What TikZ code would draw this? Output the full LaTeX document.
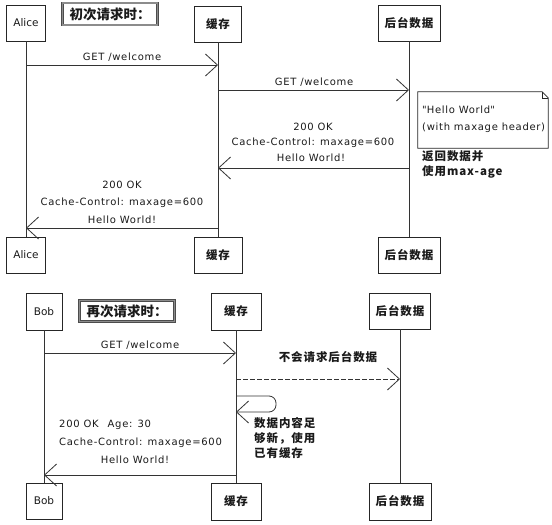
\documentclass[tikz,border=0pt]{standalone}
\usepackage{fontspec}
\setmainfont{DejaVu Sans}
\newfontfamily\cjk{Noto Sans CJK SC}
\usetikzlibrary{arrows.meta}
\definecolor{ln}{HTML}{333333}
\definecolor{tx}{HTML}{1A1A1A}
\newcommand\dq{\XeTeXglyph\XeTeXcharglyph"22\relax}
\tikzset{
  actor/.style={draw=black!85, line width=0.9pt, fill=white, minimum height=36pt, inner sep=1pt, text=tx, font=\fontsize{10.5}{12}\selectfont},
  cjkactor/.style={actor, font=\cjk\bfseries\fontsize{11.5}{13}\selectfont\addfontfeature{LetterSpace=8}},
  titlebox/.style={draw=black!70, double=black!45, double distance=1.6pt, line width=0.6pt, fill=white, inner sep=1pt, text=tx, font=\cjk\bfseries\fontsize{13.5}{15}\selectfont},
  life/.style={draw=ln, line width=0.7pt},
  msg/.style={draw=ln, line width=0.8pt, -{Straight Barb[length=12pt,width=22pt,line width=0.8pt]}},
  dmsg/.style={msg, dash pattern=on 4.5pt off 2.5pt},
  lbl/.style={text=tx, inner sep=0pt, font=\fontsize{10}{12}\selectfont\addfontfeature{LetterSpace=7}},
  cjkl/.style={text=tx, inner sep=0pt, align=left, font=\cjk\bfseries\fontsize{11.5}{15}\selectfont\addfontfeature{LetterSpace=8}},
  notebox/.style={minimum width=130pt, minimum height=56pt, inner sep=0pt},
  notedraw/.style={draw=black!85, line width=0.8pt, fill=white}
}
\begin{document}
\begin{tikzpicture}[x=1pt,y=-1pt]
\fill[white] (0,0) rectangle (552,525);
\useasboundingbox (0,0) rectangle (552,525);

% ---------- first section ----------
\node[actor, minimum width=39pt] (alice1) at (26,23) {Alice};
\node[titlebox, minimum width=95pt, minimum height=22pt] (t1) at (110,14) {初次请求时：};
\node[cjkactor, minimum width=47pt] (cache1) at (218,24) {缓存};
\node[cjkactor, minimum width=62pt] (back1) at (409,23) {后台数据};

\node[actor, minimum width=39pt] (alice2) at (26,255) {Alice};
\node[cjkactor, minimum width=48pt] (cache2) at (218,255) {缓存};
\node[cjkactor, minimum width=62pt] (back2) at (409,255) {后台数据};

\draw[life] (alice1) -- (alice2);
\draw[life] (cache1) -- (cache2);
\draw[life] (back1) -- (back2);

\draw[msg] (alice1 |- 0,65) -- (cache1 |- 0,65);
\node[lbl] (l1) at (122,57) {GET /welcome};

\draw[msg] (cache1 |- 0,90) -- (back1 |- 0,90);
\node[lbl] (l2) at (314,82) {GET /welcome};

\node[notebox] (note) at (483,120) {};
\draw[notedraw] (note.north west) -- ([xshift=-6pt]note.north east) -- ([yshift=-6pt]note.north east) -- (note.south east) -- (note.south west) -- cycle;
\draw[notedraw, fill=none, line width=0.6pt] ([xshift=-6pt]note.north east) -- ([xshift=-6pt,yshift=-6pt]note.north east) -- ([yshift=-6pt]note.north east);
\node[lbl, anchor=west] (n1) at (422,110) {\dq Hello World\dq};
\node[lbl, anchor=west] (n2) at (422,128) {(with maxage header)};

\draw[msg] (back1 |- 0,168) -- (cache1 |- 0,168);
\node[lbl] (l3a) at (313,127) {200 OK};
\node[lbl] (l3b) at (313,143) {Cache-Control: maxage=600};
\node[lbl] (l3c) at (311,158) {Hello World!};

\node[cjkl, anchor=north west] (c1) at (422,150) {返回数据并\\使用max-age};

\draw[msg] (cache1 |- 0,228) -- (alice1 |- 0,228);
\node[lbl] (l4a) at (122,185) {200 OK};
\node[lbl] (l4b) at (122,203) {Cache-Control: maxage=600};
\node[lbl] (l4c) at (122,220) {Hello World!};

% ---------- second section ----------
\node[actor, minimum width=36pt, minimum height=37pt] (bob1) at (44,311.5) {Bob};
\node[titlebox, minimum width=95pt, minimum height=21pt] (t2) at (127,311) {再次请求时：};
\node[cjkactor, minimum width=50pt, minimum height=37pt] (cache3) at (236,311.5) {缓存};
\node[cjkactor, minimum width=61pt] (back3) at (400,311) {后台数据};

\node[actor, minimum width=36pt, minimum height=36pt] (bob2) at (44,501) {Bob};
\node[cjkactor, minimum width=50pt, minimum height=37pt] (cache4) at (236,501.5) {缓存};
\node[cjkactor, minimum width=62pt, minimum height=37pt] (back4) at (400,501.5) {后台数据};

\draw[life] (bob1) -- (bob2);
\draw[life] (cache3) -- (cache4);
\draw[life] (back3) -- (back4);

\draw[msg] (bob1 |- 0,353) -- (cache3 |- 0,353);
\node[lbl] (l5) at (140,345) {GET /welcome};

\draw[dmsg] (cache3 |- 0,379) -- (back3 |- 0,379);
\node[cjkl] (c2) at (328,357) {不会请求后台数据};

\draw[msg, rounded corners=7pt] (cache3 |- 0,396) -- (276,396) -- (276,412) -- (cache3 |- 0,412);
\node[cjkl, anchor=north west] (c3) at (254,417) {数据内容足\\够新，使用\\已有缓存};

\draw[msg] (cache3 |- 0,475) -- (bob1 |- 0,475);
\node[lbl, anchor=west] (l7a) at (59,425) {200 OK\hspace{9pt}Age: 30};
\node[lbl, anchor=west] (l7b) at (59,443) {Cache-Control: maxage=600};
\node[lbl] (l7c) at (135,460) {Hello World!};
\end{tikzpicture}
\end{document}
